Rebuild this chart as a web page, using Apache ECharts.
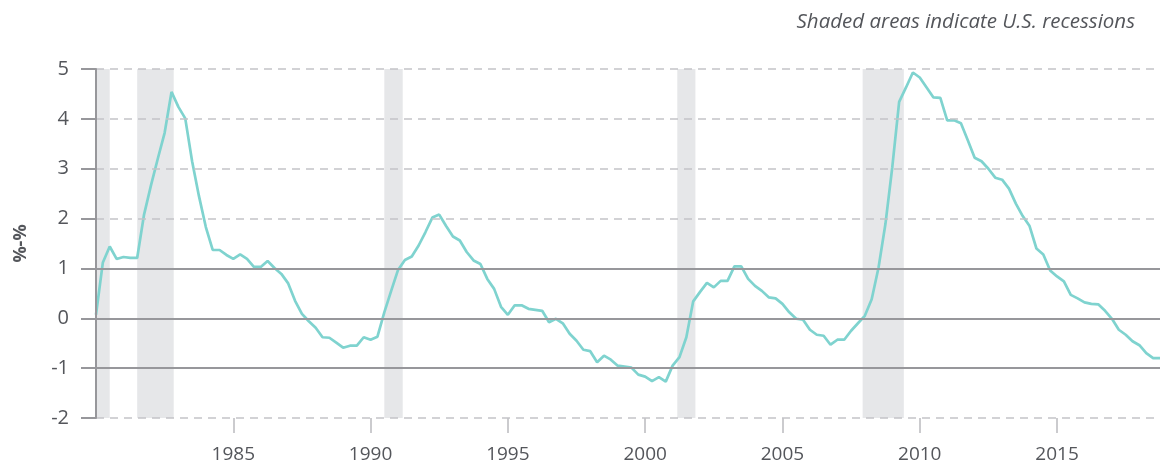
<!DOCTYPE html>
<html>
<head>
<meta charset="utf-8">
<script src="https://cdn.jsdelivr.net/npm/echarts@6/dist/echarts.min.js"></script>
<style>
  html, body { margin: 0; padding: 0; background: #fff; }
  #chart { width: 1160px; height: 464px; }
</style>
</head>
<body>
<div id="chart"></div>
<script>
// quarterly values, 1980 Q1 .. 2018 Q4
var startYear = 1980;
var values = [
    0.07, 1.12, 1.44, 1.19,
    1.23, 1.21, 1.21, 2.08,
    2.66, 3.20, 3.72, 4.54,
    4.24, 4.01, 3.15, 2.45,
    1.83, 1.37, 1.37, 1.27,
    1.19, 1.28, 1.19, 1.03,
    1.03, 1.15, 1.01, 0.89,
    0.70, 0.35, 0.09, -0.06,
    -0.19, -0.38, -0.39, -0.49,
    -0.59, -0.55, -0.55, -0.38,
    -0.43, -0.37, 0.12, 0.55,
    0.97, 1.17, 1.24, 1.46,
    1.73, 2.02, 2.08, 1.85,
    1.64, 1.56, 1.33, 1.16,
    1.09, 0.79, 0.59, 0.23,
    0.07, 0.26, 0.26, 0.19,
    0.17, 0.15, -0.08, -0.01,
    -0.10, -0.31, -0.45, -0.63,
    -0.66, -0.88, -0.75, -0.83,
    -0.95, -0.97, -0.99, -1.13,
    -1.17, -1.26, -1.18, -1.27,
    -0.95, -0.78, -0.38, 0.34,
    0.53, 0.71, 0.62, 0.75,
    0.75, 1.04, 1.04, 0.79,
    0.65, 0.55, 0.42, 0.40,
    0.29, 0.12, -0.01, -0.03,
    -0.23, -0.33, -0.35, -0.53,
    -0.43, -0.43, -0.25, -0.10,
    0.05, 0.38, 1.02, 1.89,
    3.03, 4.34, 4.63, 4.93,
    4.83, 4.63, 4.43, 4.42,
    3.97, 3.97, 3.91, 3.57,
    3.22, 3.15, 3.00, 2.82,
    2.78, 2.60, 2.30, 2.05,
    1.85, 1.40, 1.28, 0.96,
    0.84, 0.74, 0.47, 0.40,
    0.32, 0.29, 0.28, 0.15,
    -0.01, -0.23, -0.33, -0.46,
    -0.54, -0.70, -0.80, -0.80
];
// recession periods (decimal years)
var recessions = [
    [1980.0, 1980.5],
    [1981.5, 1982.83],
    [1990.5, 1991.17],
    [2001.17, 2001.83],
    [2007.92, 2009.42]
];
var xTicks = [1985, 1990, 1995, 2000, 2005, 2010, 2015];
var dashedLevels = [5, 4, 3, 2, -2];
var solidLevels = [1, 0, -1];

var chart = echarts.init(document.getElementById('chart'));
var FONT = '"Open Sans", Lato, sans-serif';
var TEXT = '#54565b';
var AXIS_GRAY = '#97979b';

var lineData = values.map(function (v, i) {
    return [startYear + i * 0.25, v];
});

var option = {
    animation: false,
    title: {
        text: 'Shaded areas indicate U.S. recessions',
        right: 20,
        top: 7,
        textStyle: {
            fontFamily: FONT,
            fontSize: 20.5,
            fontStyle: 'italic',
            fontWeight: 'normal',
            color: TEXT
        }
    },
    grid: {
        left: 96,
        right: 0,
        top: 69,
        bottom: 46,
        outerBoundsMode: 'none'
    },
    xAxis: {
        type: 'value',
        min: 1980,
        max: 2018.75,
        axisLine: {show: false, onZero: false},
        axisTick: {
            show: true,
            length: 15,
            customValues: xTicks,
            lineStyle: {color: '#cbcbce', width: 2}
        },
        axisLabel: {
            customValues: xTicks,
            margin: 27,
            fontFamily: FONT,
            fontSize: 19,
            color: TEXT,
            formatter: function (v) { return String(v); }
        },
        splitLine: {show: false}
    },
    yAxis: {
        type: 'value',
        min: -2,
        max: 5,
        interval: 1,
        z: 5,
        name: '%-%',
        nameLocation: 'middle',
        nameGap: 66,
        nameTextStyle: {
            fontFamily: FONT,
            fontSize: 18,
            fontWeight: 'bold',
            color: TEXT
        },
        axisLine: {show: true, onZero: false, lineStyle: {color: AXIS_GRAY, width: 2}},
        axisTick: {show: true, length: 15, lineStyle: {color: AXIS_GRAY, width: 2}},
        axisLabel: {
            margin: 27,
            fontFamily: FONT,
            fontSize: 20,
            color: TEXT
        },
        splitLine: {show: false}
    },
    series: [
        {
            // recession shading
            type: 'line',
            data: [],
            z: 1,
            silent: true,
            markArea: {
                silent: true,
                itemStyle: {color: '#e6e7e9'},
                data: recessions.map(function (r) {
                    return [{xAxis: r[0]}, {xAxis: r[1]}];
                })
            }
        },
        {
            // horizontal reference lines
            type: 'line',
            data: [],
            z: 2,
            silent: true,
            markLine: {
                silent: true,
                symbol: ['none', 'none'],
                label: {show: false},
                data: dashedLevels.map(function (v) {
                    return {yAxis: v, lineStyle: {color: '#c4c4c8', width: 1.5, type: [8, 6]}};
                }).concat(solidLevels.map(function (v) {
                    return {yAxis: v, lineStyle: {color: AXIS_GRAY, width: 2, type: 'solid'}};
                }))
            }
        },
        {
            type: 'line',
            data: lineData,
            z: 3,
            showSymbol: false,
            lineStyle: {color: '#7fd3cf', width: 2.7}
        }
    ]
};
chart.setOption(option);
</script>
</body>
</html>
